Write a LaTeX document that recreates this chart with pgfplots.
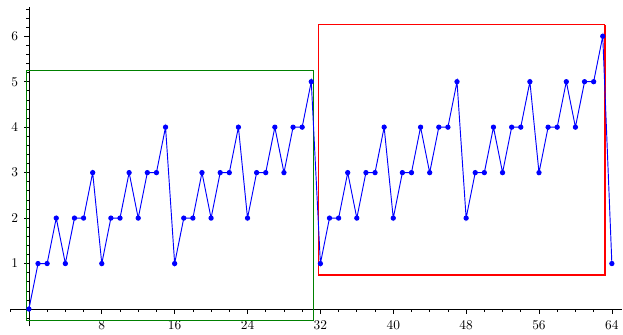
\documentclass[border=0pt]{standalone}
\usepackage{pgfplots}
\pgfplotsset{compat=1.18}
\begin{document}
\begin{tikzpicture}
\begin{axis}[
  scale only axis,
  width=457pt, height=239pt,
  axis lines=middle,
  axis line style={-, line width=0.6pt},
  xmin=-2.0, xmax=65.1,
  ymin=-0.38, ymax=6.65,
  xtick={8,16,...,64},
  minor xtick={-2,2,4,...,62},
  ytick={1,2,...,6},
  minor ytick={-0.2,0.2,0.4,...,6.6},
  tick align=outside,
  major tick length=3.5pt,
  minor tick length=2pt,
  tick style={black, line width=0.5pt},
  xticklabel style={yshift=-2pt},
  yticklabel style={xshift=-1pt},
  clip=false,
  after end axis/.code={
    \path (rel axis cs:0,1) ++(-8pt,5pt);
  },
]
\addplot[draw={rgb,255:red,0;green,128;blue,0}, line width=0.9pt] coordinates {
 (31.25,5.25) (-0.25,5.25) (-0.25,-0.25) (31.25,-0.25) (31.25,5.25)};
\addplot[draw=red, line width=0.9pt] coordinates {
 (63.25,6.25) (31.75,6.25) (31.75,0.75) (63.25,0.75) (63.25,6.25)};
\addplot[blue, line width=0.7pt, mark=*, mark size=1.6pt, mark options={fill=blue, draw=blue}] coordinates {
(0,0)(1,1)(2,1)(3,2)(4,1)(5,2)(6,2)(7,3)(8,1)(9,2)(10,2)(11,3)(12,2)(13,3)(14,3)(15,4)
(16,1)(17,2)(18,2)(19,3)(20,2)(21,3)(22,3)(23,4)(24,2)(25,3)(26,3)(27,4)(28,3)(29,4)(30,4)(31,5)
(32,1)(33,2)(34,2)(35,3)(36,2)(37,3)(38,3)(39,4)(40,2)(41,3)(42,3)(43,4)(44,3)(45,4)(46,4)(47,5)
(48,2)(49,3)(50,3)(51,4)(52,3)(53,4)(54,4)(55,5)(56,3)(57,4)(58,4)(59,5)(60,4)(61,5)(62,5)(63,6)
(64,1)};
\end{axis}
\end{tikzpicture}
\end{document}
